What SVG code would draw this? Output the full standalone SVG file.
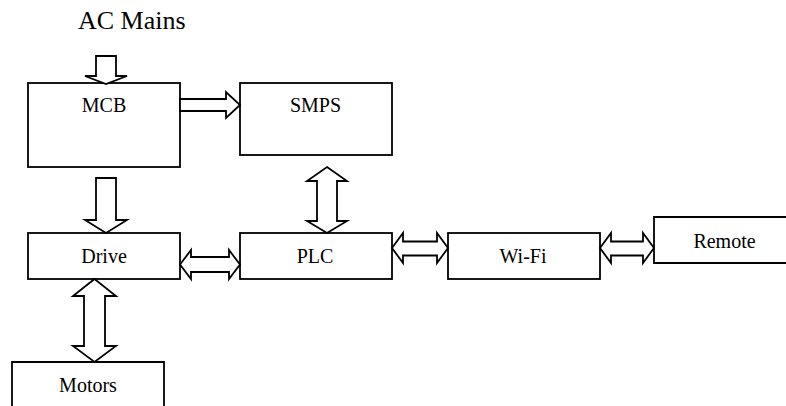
<svg xmlns="http://www.w3.org/2000/svg" width="786" height="406" viewBox="0 0 786 406" font-family="'Liberation Serif', 'Times New Roman', serif">
  <style>
    .box { fill: #ffffff; stroke: #000000; stroke-width: 1.8; }
    text { font-family: "Liberation Serif", "Times New Roman", serif; fill: #000000; }
    .lbl { font-size: 20px; text-anchor: middle; }
    .title { font-size: 26px; }
    .arrow { fill: #ffffff; stroke: #000000; stroke-width: 1.8; stroke-linejoin: miter; }
  </style>
  <rect width="786" height="406" fill="#ffffff"/>

  <g id="ac-mains">
    <text class="title" x="78" y="29">AC Mains</text>
  </g>

  <g id="mcb">
    <rect class="box" x="28" y="83" width="152" height="84"/>
    <text class="lbl" x="104" y="112">MCB</text>
  </g>
  <g id="smps">
    <rect class="box" x="240" y="83" width="152" height="72"/>
    <text class="lbl" x="315.5" y="112">SMPS</text>
  </g>
  <g id="drive">
    <rect class="box" x="28" y="233" width="152" height="46"/>
    <text class="lbl" x="104" y="263">Drive</text>
  </g>
  <g id="plc">
    <rect class="box" x="240" y="233" width="152" height="46"/>
    <text class="lbl" x="315" y="263">PLC</text>
  </g>
  <g id="wifi">
    <rect class="box" x="448" y="233" width="152" height="46"/>
    <text class="lbl" x="523" y="263">Wi-Fi</text>
  </g>
  <g id="remote">
    <path class="box" d="M 820,217 H 654 V 263 H 820"/>
    <text class="lbl" x="724.5" y="248">Remote</text>
  </g>
  <g id="motors">
    <path class="box" d="M 12,420 V 362 H 164 V 420"/>
    <text class="lbl" x="88" y="392">Motors</text>
  </g>

  <g id="connectors">
    <polygon class="arrow" points="96,56 116,56 116,76 127,76 106,84 85,76 96,76"/>
    <polygon class="arrow" points="180,99 226,99 226,92 240,105 226,118 226,111 180,111"/>
    <polygon class="arrow" points="96,178 116,178 116,220 127,220 106,233 85,220 96,220"/>
    <polygon class="arrow" points="327,167 347,181 337,181 337,221 347,221 327,233 307,221 317,221 317,181 307,181"/>
    <polygon class="arrow" points="180,264.5 191,250 191,257 229,257 229,250 240,264.5 229,279 229,272 191,272 191,279"/>
    <polygon class="arrow" points="94.5,279 116,296 105,296 105,346 116,346 94.5,362 73,346 84,346 84,296 73,296"/>
    <polygon class="arrow" points="392,248 403,233 403,241.5 437,241.5 437,233 448,248 437,263 437,255.5 403,255.5 403,263"/>
    <polygon class="arrow" points="600,248 611,233 611,241.5 643,241.5 643,233 654,248 643,263 643,255.5 611,255.5 611,263"/>
  </g>
</svg>
